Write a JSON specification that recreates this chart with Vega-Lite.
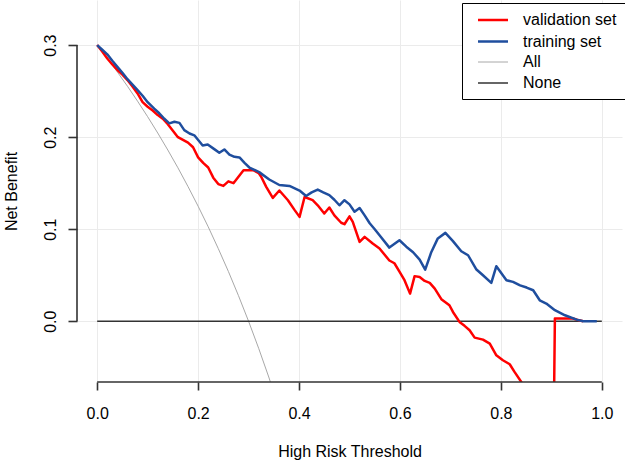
{
  "$schema": "https://vega.github.io/schema/vega-lite/v6.json",
  "width": 545,
  "height": 382,
  "autosize": {"type": "none"},
  "padding": {"left": 77, "top": 0, "right": 3, "bottom": 81},
  "background": "white",
  "config": {
    "font": "Liberation Sans",
    "view": {"stroke": null},
    "axis": {
      "domain": false,
      "labelColor": "black",
      "labelFontSize": 16,
      "titleFontSize": 16,
      "titleFontWeight": "normal",
      "titleColor": "black",
      "gridColor": "#EBEBEB",
      "gridWidth": 1
    }
  },
  "datasets": {
    "curves": [
      {"series": "All", "t": 0.00, "nb": 0.3000},
      {"series": "All", "t": 0.02, "nb": 0.2857},
      {"series": "All", "t": 0.04, "nb": 0.2708},
      {"series": "All", "t": 0.06, "nb": 0.2553},
      {"series": "All", "t": 0.08, "nb": 0.2391},
      {"series": "All", "t": 0.10, "nb": 0.2222},
      {"series": "All", "t": 0.12, "nb": 0.2045},
      {"series": "All", "t": 0.14, "nb": 0.1860},
      {"series": "All", "t": 0.16, "nb": 0.1667},
      {"series": "All", "t": 0.18, "nb": 0.1463},
      {"series": "All", "t": 0.20, "nb": 0.1250},
      {"series": "All", "t": 0.22, "nb": 0.1026},
      {"series": "All", "t": 0.24, "nb": 0.0789},
      {"series": "All", "t": 0.26, "nb": 0.0541},
      {"series": "All", "t": 0.28, "nb": 0.0278},
      {"series": "All", "t": 0.30, "nb": 0.0000},
      {"series": "All", "t": 0.32, "nb": -0.0294},
      {"series": "All", "t": 0.34, "nb": -0.0606},
      {"series": "All", "t": 0.36, "nb": -0.0938},
      {"series": "None", "t": 0.00, "nb": 0},
      {"series": "None", "t": 1.00, "nb": 0},
      {"series": "validation set", "t": 0.00, "nb": 0.300},
      {"series": "validation set", "t": 0.01, "nb": 0.293},
      {"series": "validation set", "t": 0.02, "nb": 0.2855},
      {"series": "validation set", "t": 0.03, "nb": 0.279},
      {"series": "validation set", "t": 0.04, "nb": 0.273},
      {"series": "validation set", "t": 0.05, "nb": 0.268},
      {"series": "validation set", "t": 0.06, "nb": 0.262},
      {"series": "validation set", "t": 0.07, "nb": 0.255},
      {"series": "validation set", "t": 0.08, "nb": 0.2475},
      {"series": "validation set", "t": 0.09, "nb": 0.238},
      {"series": "validation set", "t": 0.10, "nb": 0.233},
      {"series": "validation set", "t": 0.11, "nb": 0.229},
      {"series": "validation set", "t": 0.12, "nb": 0.224},
      {"series": "validation set", "t": 0.13, "nb": 0.220},
      {"series": "validation set", "t": 0.14, "nb": 0.214},
      {"series": "validation set", "t": 0.15, "nb": 0.207},
      {"series": "validation set", "t": 0.16, "nb": 0.200},
      {"series": "validation set", "t": 0.17, "nb": 0.197},
      {"series": "validation set", "t": 0.18, "nb": 0.194},
      {"series": "validation set", "t": 0.19, "nb": 0.189},
      {"series": "validation set", "t": 0.20, "nb": 0.178},
      {"series": "validation set", "t": 0.21, "nb": 0.172},
      {"series": "validation set", "t": 0.22, "nb": 0.167},
      {"series": "validation set", "t": 0.23, "nb": 0.156},
      {"series": "validation set", "t": 0.24, "nb": 0.149},
      {"series": "validation set", "t": 0.25, "nb": 0.147},
      {"series": "validation set", "t": 0.26, "nb": 0.152},
      {"series": "validation set", "t": 0.27, "nb": 0.150},
      {"series": "validation set", "t": 0.28, "nb": 0.157},
      {"series": "validation set", "t": 0.29, "nb": 0.164},
      {"series": "validation set", "t": 0.30, "nb": 0.164},
      {"series": "validation set", "t": 0.31, "nb": 0.164},
      {"series": "validation set", "t": 0.32, "nb": 0.161},
      {"series": "validation set", "t": 0.325, "nb": 0.157},
      {"series": "validation set", "t": 0.335, "nb": 0.146},
      {"series": "validation set", "t": 0.348, "nb": 0.134},
      {"series": "validation set", "t": 0.361, "nb": 0.142},
      {"series": "validation set", "t": 0.378, "nb": 0.1315},
      {"series": "validation set", "t": 0.391, "nb": 0.121},
      {"series": "validation set", "t": 0.401, "nb": 0.1134},
      {"series": "validation set", "t": 0.411, "nb": 0.135},
      {"series": "validation set", "t": 0.427, "nb": 0.1315},
      {"series": "validation set", "t": 0.437, "nb": 0.126},
      {"series": "validation set", "t": 0.450, "nb": 0.117},
      {"series": "validation set", "t": 0.460, "nb": 0.1236},
      {"series": "validation set", "t": 0.470, "nb": 0.115},
      {"series": "validation set", "t": 0.4835, "nb": 0.107},
      {"series": "validation set", "t": 0.490, "nb": 0.1054},
      {"series": "validation set", "t": 0.500, "nb": 0.114},
      {"series": "validation set", "t": 0.5065, "nb": 0.108},
      {"series": "validation set", "t": 0.520, "nb": 0.0862},
      {"series": "validation set", "t": 0.530, "nb": 0.0917},
      {"series": "validation set", "t": 0.546, "nb": 0.0844},
      {"series": "validation set", "t": 0.5595, "nb": 0.079},
      {"series": "validation set", "t": 0.579, "nb": 0.066},
      {"series": "validation set", "t": 0.589, "nb": 0.063},
      {"series": "validation set", "t": 0.599, "nb": 0.054},
      {"series": "validation set", "t": 0.609, "nb": 0.0446},
      {"series": "validation set", "t": 0.620, "nb": 0.030},
      {"series": "validation set", "t": 0.629, "nb": 0.049},
      {"series": "validation set", "t": 0.639, "nb": 0.048},
      {"series": "validation set", "t": 0.649, "nb": 0.0438},
      {"series": "validation set", "t": 0.659, "nb": 0.0417},
      {"series": "validation set", "t": 0.669, "nb": 0.0355},
      {"series": "validation set", "t": 0.682, "nb": 0.024},
      {"series": "validation set", "t": 0.698, "nb": 0.0174},
      {"series": "validation set", "t": 0.705, "nb": 0.0101},
      {"series": "validation set", "t": 0.718, "nb": -0.0007},
      {"series": "validation set", "t": 0.728, "nb": -0.005},
      {"series": "validation set", "t": 0.738, "nb": -0.0098},
      {"series": "validation set", "t": 0.748, "nb": -0.0178},
      {"series": "validation set", "t": 0.7645, "nb": -0.020},
      {"series": "validation set", "t": 0.778, "nb": -0.0243},
      {"series": "validation set", "t": 0.791, "nb": -0.037},
      {"series": "validation set", "t": 0.804, "nb": -0.0424},
      {"series": "validation set", "t": 0.8175, "nb": -0.0467},
      {"series": "validation set", "t": 0.827, "nb": -0.055},
      {"series": "validation set", "t": 0.8405, "nb": -0.066},
      {"series": "validation set", "t": 0.86, "nb": -0.09},
      {"series": "validation set", "t": 0.88, "nb": -0.13},
      {"series": "validation set", "t": 0.903, "nb": -0.20},
      {"series": "validation set", "t": 0.907, "nb": 0.003},
      {"series": "validation set", "t": 0.92, "nb": 0.003},
      {"series": "validation set", "t": 0.943, "nb": 0.003},
      {"series": "validation set", "t": 0.955, "nb": 0.001},
      {"series": "validation set", "t": 0.963, "nb": 0.000},
      {"series": "training set", "t": 0.00, "nb": 0.300},
      {"series": "training set", "t": 0.01, "nb": 0.295},
      {"series": "training set", "t": 0.02, "nb": 0.290},
      {"series": "training set", "t": 0.03, "nb": 0.283},
      {"series": "training set", "t": 0.04, "nb": 0.2764},
      {"series": "training set", "t": 0.05, "nb": 0.270},
      {"series": "training set", "t": 0.06, "nb": 0.263},
      {"series": "training set", "t": 0.07, "nb": 0.257},
      {"series": "training set", "t": 0.08, "nb": 0.251},
      {"series": "training set", "t": 0.09, "nb": 0.245},
      {"series": "training set", "t": 0.10, "nb": 0.238},
      {"series": "training set", "t": 0.113, "nb": 0.231},
      {"series": "training set", "t": 0.123, "nb": 0.226},
      {"series": "training set", "t": 0.133, "nb": 0.220},
      {"series": "training set", "t": 0.143, "nb": 0.215},
      {"series": "training set", "t": 0.153, "nb": 0.2167},
      {"series": "training set", "t": 0.163, "nb": 0.2155},
      {"series": "training set", "t": 0.1726, "nb": 0.2076},
      {"series": "training set", "t": 0.183, "nb": 0.204},
      {"series": "training set", "t": 0.1925, "nb": 0.202},
      {"series": "training set", "t": 0.209, "nb": 0.191},
      {"series": "training set", "t": 0.219, "nb": 0.192},
      {"series": "training set", "t": 0.232, "nb": 0.187},
      {"series": "training set", "t": 0.242, "nb": 0.183},
      {"series": "training set", "t": 0.252, "nb": 0.1866},
      {"series": "training set", "t": 0.262, "nb": 0.181},
      {"series": "training set", "t": 0.272, "nb": 0.1786},
      {"series": "training set", "t": 0.282, "nb": 0.178},
      {"series": "training set", "t": 0.292, "nb": 0.172},
      {"series": "training set", "t": 0.3016, "nb": 0.167},
      {"series": "training set", "t": 0.321, "nb": 0.162},
      {"series": "training set", "t": 0.341, "nb": 0.154},
      {"series": "training set", "t": 0.361, "nb": 0.148},
      {"series": "training set", "t": 0.381, "nb": 0.147},
      {"series": "training set", "t": 0.401, "nb": 0.142},
      {"series": "training set", "t": 0.414, "nb": 0.136},
      {"series": "training set", "t": 0.425, "nb": 0.140},
      {"series": "training set", "t": 0.437, "nb": 0.143},
      {"series": "training set", "t": 0.448, "nb": 0.140},
      {"series": "training set", "t": 0.460, "nb": 0.137},
      {"series": "training set", "t": 0.470, "nb": 0.132},
      {"series": "training set", "t": 0.480, "nb": 0.126},
      {"series": "training set", "t": 0.490, "nb": 0.1315},
      {"series": "training set", "t": 0.500, "nb": 0.127},
      {"series": "training set", "t": 0.510, "nb": 0.119},
      {"series": "training set", "t": 0.520, "nb": 0.123},
      {"series": "training set", "t": 0.530, "nb": 0.115},
      {"series": "training set", "t": 0.540, "nb": 0.1065},
      {"series": "training set", "t": 0.550, "nb": 0.100},
      {"series": "training set", "t": 0.5595, "nb": 0.0935},
      {"series": "training set", "t": 0.579, "nb": 0.080},
      {"series": "training set", "t": 0.599, "nb": 0.088},
      {"series": "training set", "t": 0.6125, "nb": 0.081},
      {"series": "training set", "t": 0.626, "nb": 0.075},
      {"series": "training set", "t": 0.639, "nb": 0.067},
      {"series": "training set", "t": 0.650, "nb": 0.056},
      {"series": "training set", "t": 0.662, "nb": 0.075},
      {"series": "training set", "t": 0.675, "nb": 0.090},
      {"series": "training set", "t": 0.690, "nb": 0.096},
      {"series": "training set", "t": 0.705, "nb": 0.087},
      {"series": "training set", "t": 0.7215, "nb": 0.076},
      {"series": "training set", "t": 0.735, "nb": 0.0717},
      {"series": "training set", "t": 0.751, "nb": 0.0565},
      {"series": "training set", "t": 0.7645, "nb": 0.050},
      {"series": "training set", "t": 0.781, "nb": 0.0417},
      {"series": "training set", "t": 0.791, "nb": 0.0598},
      {"series": "training set", "t": 0.811, "nb": 0.0446},
      {"series": "training set", "t": 0.824, "nb": 0.0428},
      {"series": "training set", "t": 0.838, "nb": 0.039},
      {"series": "training set", "t": 0.851, "nb": 0.0366},
      {"series": "training set", "t": 0.864, "nb": 0.0337},
      {"series": "training set", "t": 0.877, "nb": 0.0228},
      {"series": "training set", "t": 0.890, "nb": 0.0192},
      {"series": "training set", "t": 0.907, "nb": 0.012},
      {"series": "training set", "t": 0.927, "nb": 0.0065},
      {"series": "training set", "t": 0.950, "nb": 0.0018},
      {"series": "training set", "t": 0.963, "nb": 0.000},
      {"series": "training set", "t": 0.990, "nb": 0.000}
    ]
  },
  "layer": [
    {
      "data": {"name": "curves"},
      "mark": {"type": "line", "clip": true, "strokeJoin": "round", "strokeCap": "butt"},
      "encoding": {
        "x": {
          "field": "t",
          "type": "quantitative",
          "scale": {"domain": [-0.04, 1.04], "nice": false, "zero": false},
          "axis": {
            "values": [0, 0.2, 0.4, 0.6, 0.8, 1.0],
            "format": ".1f",
            "ticks": true,
            "tickColor": "#333333",
            "tickWidth": 1.6,
            "tickSize": 8,
            "labelPadding": 15,
            "title": "High Risk Threshold",
            "titlePadding": 22
          }
        },
        "y": {
          "field": "nb",
          "type": "quantitative",
          "scale": {"domain": [-0.066, 0.349], "nice": false, "zero": false},
          "axis": {
            "values": [0, 0.1, 0.2, 0.3],
            "format": ".1f",
            "ticks": true,
            "tickColor": "#333333",
            "tickWidth": 1.6,
            "tickSize": 9,
            "labelAngle": -90,
            "labelAlign": "center",
            "labelBaseline": "alphabetic",
            "labelPadding": 13,
            "title": "Net Benefit",
            "titlePadding": 23
          }
        },
        "color": {
          "field": "series",
          "type": "nominal",
          "scale": {
            "domain": ["validation set", "training set", "All", "None"],
            "range": ["#FF0000", "#1F4E9E", "#A8A8A8", "#333333"]
          },
          "legend": {
            "orient": "none",
            "legendX": 385,
            "legendY": 3,
            "title": null,
            "strokeColor": "black",
            "fillColor": "white",
            "padding": 8,
            "symbolOffset": 14,
            "symbolType": "M-2,0H2",
            "symbolSize": 225,
            "labelFontSize": 16,
            "labelColor": "black",
            "labelOffset": 21,
            "rowPadding": 4.5,
            "cornerRadius": 0
          }
        },
        "strokeWidth": {
          "field": "series",
          "type": "nominal",
          "scale": {
            "type": "ordinal",
            "domain": ["validation set", "training set", "All", "None"],
            "range": [2.5, 2.5, 1, 1.5]
          },
          "legend": {
            "orient": "none",
            "legendX": 385,
            "legendY": 3,
            "title": null,
            "strokeColor": "black",
            "fillColor": "white",
            "padding": 8,
            "symbolOffset": 14,
            "symbolType": "M-2,0H2",
            "symbolSize": 225,
            "labelFontSize": 16,
            "labelColor": "black",
            "labelOffset": 21,
            "rowPadding": 4.5,
            "cornerRadius": 0
          }
        }
      }
    },
    {
      "data": {"values": [{}]},
      "mark": {"type": "rule", "clip": false, "color": "#333333", "strokeWidth": 1.6},
      "encoding": {
        "x": {"datum": 0},
        "x2": {"datum": 1},
        "y": {"datum": -0.066}
      }
    },
    {
      "data": {"values": [{}]},
      "mark": {"type": "rule", "clip": false, "color": "#333333", "strokeWidth": 1.6},
      "encoding": {
        "x": {"datum": -0.04},
        "y": {"datum": 0},
        "y2": {"datum": 0.3}
      }
    }
  ]
}
